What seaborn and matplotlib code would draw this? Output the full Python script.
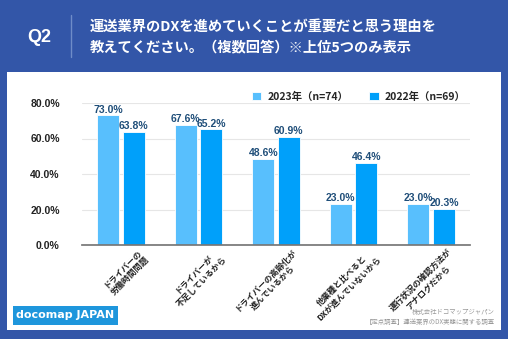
import matplotlib
matplotlib.use("Agg")
import matplotlib.pyplot as plt
import matplotlib.transforms as mtransforms
import seaborn as sns
import pandas as pd
from matplotlib.patches import Rectangle

categories = ["ドライバーの\n労働時間問題", "ドライバーが\n不足しているから", "ドライバーの高齢化が\n進んでいるから",
              "他業種と比べると\nDXが進んでいないから", "運行状況の確認方法が\nアナログだから"]
series_names = ["2023年（n=74）", "2022年（n=69）"]
values_2023 = [73.0, 67.6, 48.6, 23.0, 23.0]
values_2022 = [63.8, 65.2, 60.9, 46.4, 20.3]
yticks = [0, 20, 40, 60, 80]

sns.set_theme(style="white")
plt.rcParams['font.family'] = ['Noto Sans CJK JP', 'DejaVu Sans']

df = pd.DataFrame({
    "cat": categories * 2,
    "series": [series_names[0]] * 5 + [series_names[1]] * 5,
    "val": values_2023 + values_2022,
})

BG = "#3356A8"
fig = plt.figure(figsize=(5.08, 3.39), dpi=100)
fig.patch.set_facecolor(BG)
fig.patches.append(Rectangle((7/508, 1-330/339), (501-7)/508, (330-72)/339, transform=fig.transFigure,
                             facecolor="white", edgecolor="none", zorder=-5))

ax = fig.add_axes([82/508, 1-245/339, (470-82)/508, (245-103)/339])
ax.set_zorder(2)
palette = ["#58BFFD", "#00A0FA"]
sns.barplot(data=df, x="cat", y="val", hue="series", palette=palette, width=0.66, gap=0.14,
            ax=ax, edgecolor="white", linewidth=0.6, saturation=1)
ax.set_ylim(0, 80)
ax.set_yticks(yticks)
ax.set_yticklabels([f"{v:.1f}%" for v in yticks], fontsize=7.5, fontweight="bold", color="#222222",
                   family=["Liberation Sans", "DejaVu Sans"])
ax.set_xlabel("")
ax.set_ylabel("")
ax.grid(axis="y", color="#e6e6e6", linewidth=0.8)
ax.set_axisbelow(True)
for s in ["top", "right", "left"]:
    ax.spines[s].set_visible(False)
ax.spines["bottom"].set_color("#777777")
ax.tick_params(axis="y", length=0, pad=16)
ax.tick_params(axis="x", length=0, pad=0)
ax.set_xticks(range(len(categories)))
ax.set_xticklabels(categories, rotation=45, ha="right", va="center", rotation_mode="anchor", fontsize=6.0,
                   fontweight="bold", color="#222222", linespacing=1.25, multialignment="center")
offset = mtransforms.ScaledTranslation(23/100, -9/100, fig.dpi_scale_trans)
for lab in ax.get_xticklabels():
    lab.set_transform(lab.get_transform() + offset)
ax.set_facecolor("none")

for cont in ax.containers:
    ax.bar_label(cont, labels=[f"{v:.1f}%" for v in cont.datavalues], fontsize=7.5, color="#1F4E79",
                 padding=0.5, fontweight="bold", family=["Liberation Sans", "DejaVu Sans"])

leg = ax.legend(loc="lower right", bbox_to_anchor=(1.0, 0.98), ncol=2, frameon=False, fontsize=7.5,
                handlelength=0.9, handleheight=0.9, columnspacing=2.0, handletextpad=0.6, borderaxespad=0)
for t in leg.get_texts():
    t.set_fontweight("bold")

# Header
fig.text(39/508, 1-37/339, "Q2", color="white", fontsize=13, fontweight="bold", ha="center", va="center",
         family=["Liberation Sans", "DejaVu Sans"])
fig.add_artist(plt.Line2D([71/508, 71/508], [1-15/339, 1-57/339], color="#6f8cc8", linewidth=1, transform=fig.transFigure))
fig.text(90/508, 1-27/339, "運送業界のDXを進めていくことが重要だと思う理由を", color="white", fontsize=10.3,
         fontweight="bold", ha="left", va="center")
fig.text(90/508, 1-47/339, "教えてください。（複数回答）※上位5つのみ表示", color="white", fontsize=10.3,
         fontweight="bold", ha="left", va="center")

# Logo
fig.patches.append(Rectangle((13/508, 1-325/339), (118-13)/508, (325-306)/339, transform=fig.transFigure,
                             facecolor="#1E96DC", edgecolor="none", zorder=-4))
fig.text(65/508, 1-315.5/339, "docomap JAPAN", color="white", fontsize=8, fontweight="bold",
         ha="center", va="center", family=["DejaVu Sans"])

# footnotes
fig.text(495/508, 1-312/339, "株式会社ドコマップジャパン", color="#999999", fontsize=4.6, ha="right", va="center")
fig.text(495/508, 1-322/339, "【定点調査】運送業界のDX実態に関する調査", color="#999999", fontsize=4.6, ha="right", va="center")

fig.savefig("out.png", dpi=100, facecolor=fig.get_facecolor())
